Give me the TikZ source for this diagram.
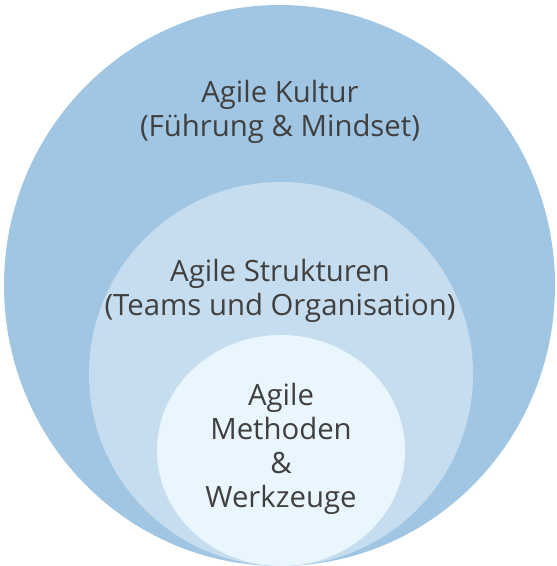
\documentclass[tikz,border=0pt]{standalone}
\usepackage{fontspec}
\setmainfont{Open Sans}
\usepackage{xcolor}
\usetikzlibrary{positioning}
\definecolor{kultur}{RGB}{160, 198, 227}
\definecolor{struktur}{RGB}{197, 221, 238}
\definecolor{methode}{RGB}{234, 246, 253}
\definecolor{schrift}{RGB}{64, 64, 64}

\begin{document}
\begin{tikzpicture}[x=0.75pt, y=-0.75pt,
    lbl/.style={align=center, text=schrift, inner sep=0pt,
                font=\fontsize{22}{25.5}\selectfont}]
    \useasboundingbox (0, 0) rectangle (556, 566);

    % Rings
    \fill[kultur] (279.5, 285.5) ellipse [x radius=275.5, y radius=280.5];
    \fill[struktur] (281, 374) ellipse [x radius=192, y radius=192];
    \fill[methode] (281, 450.5) ellipse [x radius=124, y radius=115.5];

    % Labels
    \node[lbl] (kultur) at (280, 112) {Agile Kultur\\(Führung \& Mindset)};
    \node[lbl] (struktur) at (280, 291) {Agile Strukturen\\(Teams und Organisation)};
    \node[lbl] (methoden) at (281, 449) {Agile\\Methoden\\\&\\Werkzeuge};
\end{tikzpicture}
\end{document}
